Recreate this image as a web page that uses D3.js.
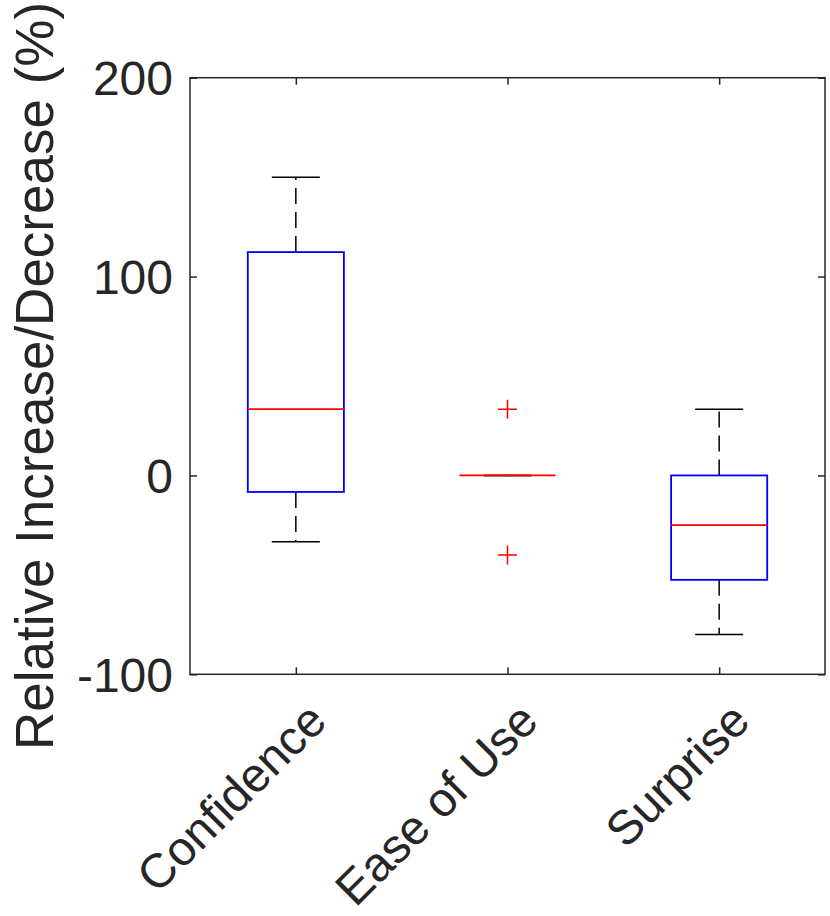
<!DOCTYPE html>
<html>
<head>
<meta charset="utf-8">
<script src="https://cdn.jsdelivr.net/npm/d3@7"></script>
<style>
  body { margin: 0; background: #fff; }
  text { font-family: "Liberation Sans", Arial, sans-serif; fill: #262626; }
</style>
</head>
<body>
<div id="chart"></div>
<script>
// values
const categories = ["Confidence", "Ease of Use", "Surprise"];
const whiskerHigh = [150, 0, 33.3];
const upperQuartile = [112.3, 0, 0];
const medians = [33.3, 0, -25];
const lowerQuartile = [-8.3, 0, -52.5];
const whiskerLow = [-33.3, 0, -80];
const outliers = [[], [33.3, -40], []];
const yTicks = [-100, 0, 100, 200];

document.addEventListener("DOMContentLoaded", setup)

function setup() {
    const width = 830;
    const height = 916;
    const plot = {left: 190, right: 825, top: 77.7, bottom: 674.3};
    const ink = "#262626";

    const svg = d3.select("#chart").append("svg")
        .attr("width", width)
        .attr("height", height);

    const x = d3.scaleLinear().domain([0.5, 3.5]).range([plot.left, plot.right]);
    const y = d3.scaleLinear().domain([-100, 200]).range([plot.bottom, plot.top]);
    const boxHalf = x(1.227) - x(1);
    const capHalf = boxHalf / 2;

    const stats = categories.map((c, i) => ({
        name: c, pos: i + 1,
        hi: whiskerHigh[i], q3: upperQuartile[i], med: medians[i],
        q1: lowerQuartile[i], lo: whiskerLow[i], out: outliers[i]
    }));

    const g = svg.append("g");

    // whiskers (dashed) and caps
    stats.forEach(s => {
        const cx = x(s.pos);
        g.append("line")
            .attr("x1", cx).attr("x2", cx)
            .attr("y1", y(s.q3)).attr("y2", y(s.hi))
            .attr("stroke", "#000").attr("stroke-width", 1.5)
            .attr("stroke-dasharray", "16,8");
        g.append("line")
            .attr("x1", cx).attr("x2", cx)
            .attr("y1", y(s.q1)).attr("y2", y(s.lo))
            .attr("stroke", "#000").attr("stroke-width", 1.5)
            .attr("stroke-dasharray", "16,8");
        [s.hi, s.lo].forEach(v => {
            g.append("line")
                .attr("x1", cx - capHalf).attr("x2", cx + capHalf)
                .attr("y1", y(v)).attr("y2", y(v))
                .attr("stroke", "#000").attr("stroke-width", 1.5);
        });
    });

    // boxes
    g.selectAll("rect.box")
        .data(stats)
        .enter()
        .append("rect")
        .attr("class", "box")
        .attr("x", d => x(d.pos) - boxHalf)
        .attr("y", d => y(d.q3))
        .attr("width", boxHalf * 2)
        .attr("height", d => y(d.q1) - y(d.q3))
        .attr("fill", "none")
        .attr("stroke", "#0000ff")
        .attr("stroke-width", 1.8);

    // medians
    g.selectAll("line.median")
        .data(stats)
        .enter()
        .append("line")
        .attr("class", "median")
        .attr("x1", d => x(d.pos) - boxHalf)
        .attr("x2", d => x(d.pos) + boxHalf)
        .attr("y1", d => y(d.med))
        .attr("y2", d => y(d.med))
        .attr("stroke", "#ff0000")
        .attr("stroke-width", 1.8);

    // outliers as '+'
    const plus = 9.5;
    stats.forEach(s => {
        s.out.forEach(v => {
            const cx = x(s.pos), cy = y(v);
            g.append("path")
                .attr("d", `M${cx - plus},${cy}H${cx + plus}M${cx},${cy - plus}V${cy + plus}`)
                .attr("stroke", "#ff0000")
                .attr("stroke-width", 1.5)
                .attr("fill", "none");
        });
    });

    // axes frame with inward ticks on all sides
    const tickLen = 7;
    const axisLeft = d3.axisLeft(y).tickValues(yTicks).tickSize(-tickLen).tickPadding(17)
        .tickFormat(d => String(d));
    const axisRight = d3.axisRight(y).tickValues(yTicks).tickSize(-tickLen).tickFormat("");
    const axisBottom = d3.axisBottom(x).tickValues([1, 2, 3]).tickSize(-tickLen).tickFormat("");
    const axisTop = d3.axisTop(x).tickValues([1, 2, 3]).tickSize(-tickLen).tickFormat("");

    const styleAxis = sel => {
        sel.selectAll("path.domain").remove();
        sel.selectAll(".tick line").attr("stroke", ink).attr("stroke-width", 1.5);
    };

    const left = svg.append("g").attr("transform", `translate(${plot.left},0)`).call(axisLeft);
    left.selectAll("text")
        .style("font-size", "48px")
        .attr("fill", ink)
        .attr("dy", "0.36em");
    styleAxis(left);
    svg.append("g").attr("transform", `translate(${plot.right},0)`).call(axisRight).call(styleAxis);
    svg.append("g").attr("transform", `translate(0,${plot.bottom})`).call(axisBottom).call(styleAxis);
    svg.append("g").attr("transform", `translate(0,${plot.top})`).call(axisTop).call(styleAxis);

    // axes box
    svg.append("rect")
        .attr("x", plot.left).attr("y", plot.top)
        .attr("width", plot.right - plot.left)
        .attr("height", plot.bottom - plot.top)
        .attr("fill", "none")
        .attr("stroke", ink)
        .attr("stroke-width", 1.5);

    // rotated category labels
    svg.append("g")
        .selectAll("text")
        .data(stats)
        .enter()
        .append("text")
        .attr("transform", d => `translate(${x(d.pos) + 33},${plot.bottom + 49}) rotate(-45)`)
        .attr("text-anchor", "end")
        .style("font-size", "48px")
        .text(d => d.name);

    // y axis title
    svg.append("text")
        .attr("transform", `translate(53,${(plot.top + plot.bottom) / 2}) rotate(-90)`)
        .attr("text-anchor", "middle")
        .style("font-size", "53px")
        .text("Relative Increase/Decrease (%)");
}
</script>
</body>
</html>
